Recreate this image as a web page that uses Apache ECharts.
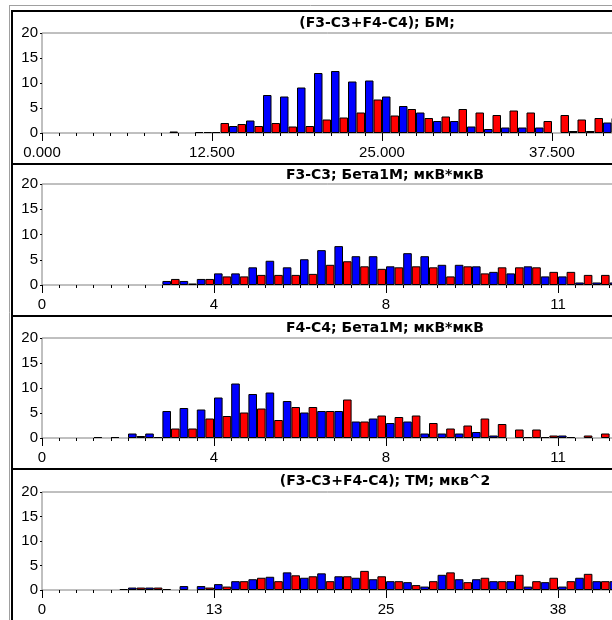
<!DOCTYPE html>
<html>
<head>
<meta charset="utf-8">
<script src="https://cdn.jsdelivr.net/npm/echarts@6/dist/echarts.min.js"></script>
<style>
  html, body { margin: 0; padding: 0; background: #fff; }
  #chart { width: 612px; height: 620px; }
</style>
</head>
<body>
<div id="chart"></div>
<script>
// panel titles
var titles = [
  "(F3-C3+F4-C4); БМ;",
  "F3-C3; Бета1М; мкВ*мкВ",
  "F4-C4; Бета1М; мкВ*мкВ",
  "(F3-C3+F4-C4); ТМ; мкв^2"
];

// x tick labels, one every 10 bins
var xLabels1 = ["0.000", "12.500", "25.000", "37.500"];
var xLabels2 = ["0", "4", "8", "11"];
var xLabels3 = ["0", "4", "8", "11"];
var xLabels4 = ["0", "13", "25", "38"];

// y ticks
var yTicks = [0, 5, 10, 15, 20];

// histogram counts per bin (blue = first half of bin, red = second half)
var blue1 = [0, 0, 0, 0, 0, 0, 0, 0, 0, 0.2, 0.2, 1.4, 2.5, 7.6, 7.3, 9.1, 12.0, 12.4, 10.3, 10.5, 7.3, 5.4, 4.1, 2.4, 2.4, 1.3, 0.8, 1.1, 1.1, 1.1, 0, 0.4, 0.4, 2.1];
var red1  = [0, 0, 0, 0, 0, 0, 0, 0.3, 0, 0.2, 2.0, 1.8, 1.4, 2.0, 1.3, 1.4, 2.7, 3.1, 4.1, 6.7, 3.5, 4.8, 3.0, 3.3, 4.8, 4.1, 3.6, 4.5, 4.1, 2.4, 3.6, 2.7, 3.0, 3.0];

var blue2 = [0, 0, 0, 0, 0, 0, 0, 0.8, 0.8, 1.2, 2.3, 2.3, 3.5, 4.8, 3.5, 5.1, 6.9, 7.7, 5.7, 5.7, 3.7, 6.3, 5.7, 4.0, 4.0, 3.7, 2.6, 2.3, 3.7, 1.7, 1.7, 0.5, 0.5, 0.5];
var red2  = [0, 0, 0, 0, 0, 0, 0, 1.2, 0.3, 1.2, 1.7, 1.7, 2.0, 2.0, 2.0, 2.2, 4.0, 4.7, 3.7, 3.2, 3.5, 3.7, 3.5, 1.7, 3.7, 2.3, 3.5, 3.5, 3.5, 2.6, 2.6, 2.0, 2.0, 2.0];

var blue3 = [0, 0, 0, 0.2, 0.2, 0.9, 0.9, 5.4, 6.0, 5.7, 8.1, 10.9, 8.8, 9.1, 7.4, 5.1, 5.4, 5.4, 3.3, 3.9, 3.0, 3.3, 0.9, 0.9, 0.9, 1.2, 0.5, 0, 0.2, 0.2, 0.5, 0, 0, 0];
var red3  = [0, 0, 0, 0, 0, 0.4, 0.2, 1.9, 1.9, 3.9, 4.4, 5.1, 5.9, 3.6, 6.2, 6.2, 5.4, 7.7, 3.3, 4.5, 4.2, 4.5, 3.0, 1.9, 2.5, 3.9, 2.8, 1.7, 1.7, 0.5, 0.2, 0.5, 0.9, 0.9];

var blue4 = [0, 0, 0, 0, 0, 0.5, 0.5, 0.2, 0.8, 0.8, 1.2, 1.8, 2.2, 2.7, 3.6, 2.5, 3.4, 2.8, 2.5, 2.2, 1.8, 1.6, 0.7, 3.1, 2.2, 2.2, 1.8, 1.8, 0.7, 1.6, 0.7, 2.5, 1.8, 1.8];
var red4  = [0, 0, 0, 0, 0.2, 0.5, 0.5, 0, 0, 0.5, 0.7, 1.8, 2.5, 1.8, 3.0, 2.8, 1.8, 2.8, 3.9, 2.8, 1.8, 1.0, 1.8, 3.6, 1.6, 2.5, 1.8, 3.1, 1.8, 2.5, 1.8, 3.3, 1.8, 1.8];

var blues = [blue1, blue2, blue3, blue4];
var reds = [red1, red2, red3, red4];
var xLabels = [xLabels1, xLabels2, xLabels3, xLabels4];

// panel layout (pixels)
var plotTop = [33, 184, 338, 492];
var plotHeight = [100, 101, 100, 98];
var binPx = [17.0, 17.2, 17.2, 17.2];
var titleX = [377, 385, 385, 385];
var titleY = [15, 167, 320, 473];
var panelLine = [11, 164, 316, 469];
var xMax = 40;

var labelFont = "'Liberation Sans', Arial, sans-serif";

function toPairs(arr) {
  return arr.map(function (v, k) {
    return [k + 0.5, v > 0 ? v : null];
  });
}

var grids = [], xAxes = [], yAxes = [], series = [], titleOpts = [];
for (var i = 0; i < 4; i++) {
  grids.push({
    left: 42,
    top: plotTop[i],
    height: plotHeight[i],
    width: xMax * binPx[i],
    outerBoundsMode: "none",
    containLabel: false,
    show: true,
    borderColor: "#808080",
    borderWidth: 1,
    backgroundColor: "#fff"
  });
  (function (labels) {
    xAxes.push({
      type: "value",
      gridIndex: i,
      min: 0,
      max: xMax,
      interval: 10,
      offset: 1,
      axisLine: { show: false },
      axisTick: { show: true, length: 8, lineStyle: { color: "#000", width: 1 } },
      minorTick: { show: true, splitNumber: 10, length: 3, lineStyle: { color: "#000", width: 1 } },
      splitLine: { show: false },
      axisLabel: {
        margin: 11,
        color: "#000",
        fontSize: 15,
        fontFamily: labelFont,
        formatter: function (v) {
          if (Math.abs(v % 10) > 1e-6) return "";
          var idx = Math.round(v / 10);
          return labels[idx] !== undefined ? labels[idx] : "";
        }
      }
    });
  })(xLabels[i]);
  yAxes.push({
    type: "value",
    gridIndex: i,
    min: yTicks[0],
    max: yTicks[yTicks.length - 1],
    interval: yTicks[1] - yTicks[0],
    axisLine: { show: false },
    axisTick: { show: true, length: 2, lineStyle: { color: "#000" } },
    splitLine: { show: false },
    axisLabel: { margin: 4, color: "#000", fontSize: 15, fontFamily: labelFont }
  });
  series.push({
    type: "bar",
    xAxisIndex: i,
    yAxisIndex: i,
    barGap: "0%",
    barWidth: binPx[i] / 2,
    itemStyle: { color: "#0000ff", borderColor: "#000", borderWidth: 1 },
    data: toPairs(blues[i]),
    silent: true
  });
  series.push({
    type: "bar",
    xAxisIndex: i,
    yAxisIndex: i,
    barGap: "0%",
    barWidth: binPx[i] / 2,
    itemStyle: { color: "#ff0000", borderColor: "#000", borderWidth: 1 },
    data: toPairs(reds[i]),
    silent: true
  });
  titleOpts.push({
    text: titles[i],
    left: titleX[i],
    top: titleY[i],
    textAlign: "center",
    padding: 0,
    textStyle: { fontFamily: "'DejaVu Sans', sans-serif", fontWeight: "bold", fontSize: 14, color: "#000", lineHeight: 16 }
  });
}

// window frame lines
var graphics = [
  { type: "line", shape: { x1: 9.5, y1: 5, x2: 9.5, y2: 620 }, style: { stroke: "#a0a0a0", lineWidth: 1 } },
  { type: "line", shape: { x1: 9, y1: 5.5, x2: 612, y2: 5.5 }, style: { stroke: "#a0a0a0", lineWidth: 1 } },
  { type: "line", shape: { x1: 12, y1: 10, x2: 12, y2: 620 }, style: { stroke: "#000", lineWidth: 2 } }
];
panelLine.forEach(function (y) {
  graphics.push({ type: "line", shape: { x1: 11, y1: y, x2: 612, y2: y }, style: { stroke: "#000", lineWidth: 2 } });
});

var myChart = echarts.init(document.getElementById("chart"));
myChart.setOption({
  animation: false,
  backgroundColor: "#fff",
  title: titleOpts,
  grid: grids,
  xAxis: xAxes,
  yAxis: yAxes,
  series: series,
  graphic: graphics
});
</script>
</body>
</html>
